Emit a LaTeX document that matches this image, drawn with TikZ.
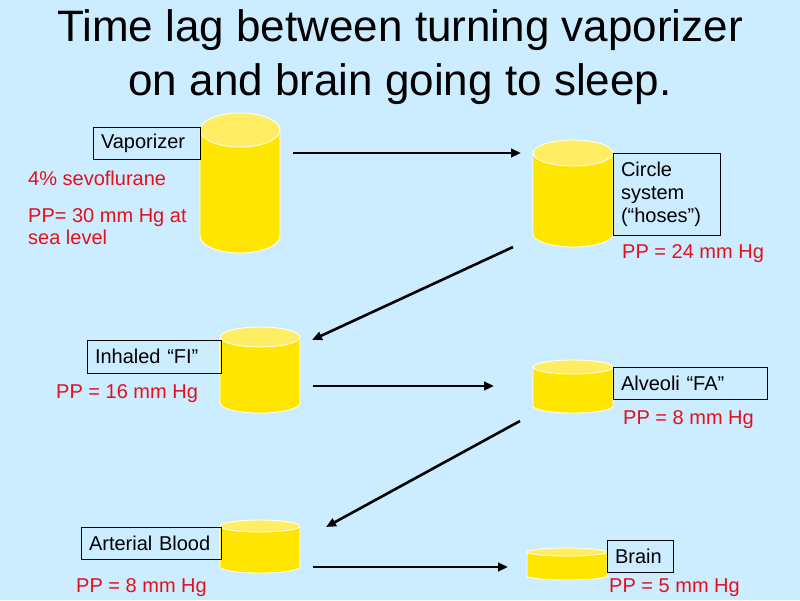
\documentclass[tikz,border=0pt]{standalone}
\usepackage{fontspec}
\setmainfont{Liberation Sans}
\usetikzlibrary{arrows.meta}
\definecolor{bg}{RGB}{204,236,255}
\definecolor{cylbody}{RGB}{255,230,0}
\definecolor{cyltop}{RGB}{255,238,100}
\definecolor{ppred}{RGB}{228,16,26}
\tikzset{
  lbl/.style={draw=black, line width=0.9pt, inner xsep=8pt, inner ysep=0pt, align=left,
    font=\fontsize{20}{23}\selectfont, text=black},
  pp/.style={text=ppred, inner sep=0pt, anchor=base west, font=\fontsize{20}{22}\selectfont, align=left},
  ttl/.style={inner sep=0pt, anchor=base, font=\fontsize{44}{54}\selectfont},
  flow/.style={line width=2.6pt, -{Triangle[length=10pt,width=8.5pt]}},
}
\newcommand\drawcyl[5]{%
  \fill[cylbody] (#1-40,-#2-#4) -- (#1-40,-#3+#4)
     arc[start angle=180,end angle=360,x radius=40pt,y radius=#4pt] -- (#1+40,-#2-#4) -- cycle;
  \draw[white, line width=0.8pt] (#1-40,-#2-#4) -- (#1-40,-#3+#4)
     arc[start angle=180,end angle=360,x radius=40pt,y radius=#4pt] -- (#1+40,-#2-#4);
  \fill[cyltop] (#1,-#2-#4) ellipse[x radius=40pt,y radius=#4pt];
  \draw[white, line width=0.8pt] (#1,-#2-#4) ellipse[x radius=40pt,y radius=#4pt];
  \coordinate (#5) at (#1,-#2/2-#3/2);
}
\begin{document}
\begin{tikzpicture}[x=1pt,y=1pt]
\fill[bg] (0,0) rectangle (800,-600);
\useasboundingbox (0,0) rectangle (800,-600);

% title
\node[ttl] (t1) at (400,-41) {Time lag between turning vaporizer};
\node[ttl] (t2) at (400,-95) {on and brain going to sleep.};

% cylinders
\drawcyl{240}{113}{253}{17}{cvap}
\drawcyl{573}{140}{247}{13}{ccirc}
\drawcyl{260}{327}{413}{10}{cinh}
\drawcyl{573}{360}{413}{7}{calv}
\drawcyl{260}{520}{573}{6}{cart}
\drawcyl{567}{548}{580}{4}{cbrain}

% label boxes
\node[lbl, minimum width=107pt, minimum height=32pt, text width=91pt] (bvap) at (146.5,-143) {Vaporizer};
\node[lbl, minimum width=107pt, minimum height=82pt, text width=91pt] (bcirc) at (666.5,-194) {Circle\\system\\(“hoses”)};
\node[lbl, minimum width=134pt, minimum height=33pt, text width=118pt] (binh) at (154,-356.5) {Inhaled “FI”};
\node[lbl, minimum width=154pt, minimum height=32pt, text width=138pt] (balv) at (690,-383) {Alveoli “FA”};
\node[lbl, minimum width=140pt, minimum height=32pt, text width=124pt] (bart) at (151,-543) {Arterial Blood};
\node[lbl, minimum width=66pt, minimum height=32pt, text width=50pt] (bbrain) at (640,-556) {Brain};

% partial pressures
\node[pp] (pvap1) at (28,-185) {4\% sevoflurane};
\node[pp] (pvap2) at (28,-244) {PP= 30 mm Hg at\\sea level};
\node[pp] (pcirc) at (622,-258) {PP = 24 mm Hg};
\node[pp] (pinh) at (56,-398) {PP = 16 mm Hg};
\node[pp] (palv) at (623,-424) {PP = 8 mm Hg};
\node[pp] (part) at (76,-592) {PP = 8 mm Hg};
\node[pp] (pbrain) at (609,-592) {PP = 5 mm Hg};

% arrow end points
\coordinate (h1s) at (293,-153);
\coordinate (h1e) at (521,-153);
\coordinate (d1s) at (513,-247);
\coordinate (d1e) at (312,-340);
\coordinate (h2s) at (313,-386);
\coordinate (h2e) at (494,-386);
\coordinate (d2s) at (520,-421);
\coordinate (d2e) at (326,-527);
\coordinate (h3s) at (313,-567);
\coordinate (h3e) at (508,-567);

\draw[flow] (h1s) -- (h1e);
\draw[flow] (d1s) -- (d1e);
\draw[flow] (h2s) -- (h2e);
\draw[flow] (d2s) -- (d2e);
\draw[flow] (h3s) -- (h3e);
\end{tikzpicture}
\end{document}
